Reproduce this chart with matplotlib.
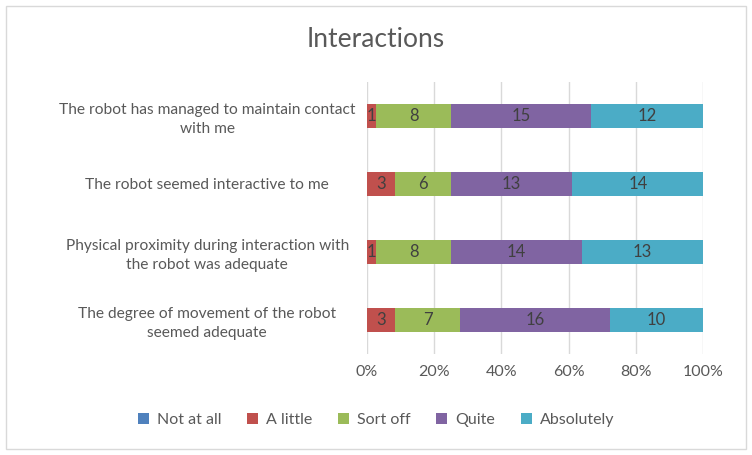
import numpy as np
import matplotlib.pyplot as plt
from matplotlib.patches import Rectangle

plt.rcParams['font.family'] = ['Lato', 'DejaVu Sans']

# ======= Data =======
questions = [
    "The robot has managed to maintain contact\nwith me",
    "The robot seemed interactive to me",
    "Physical proximity during interaction with\nthe robot was adequate",
    "The degree of movement of the robot\nseemed adequate",
]
levels = ["Not at all", "A little", "Sort off", "Quite", "Absolutely"]
not_at_all = [0, 0, 0, 0]
a_little = [1, 3, 1, 3]
sort_off = [8, 6, 8, 7]
quite = [15, 13, 14, 16]
absolutely = [12, 14, 13, 10]
colors = ['#4F81BD', '#C0504D', '#9BBB59', '#8064A2', '#4BACC6']

counts = np.array([not_at_all, a_little, sort_off, quite, absolutely], dtype=float)
shares = counts / counts.sum(axis=0)

# ======= Plot =======
fig = plt.figure(figsize=(7.52, 4.55), dpi=100)
ax = fig.add_axes([0.488, 0.222, 0.447, 0.598])

y = np.arange(len(questions))
left = np.zeros(len(questions))
for i, name in enumerate(levels):
    ax.barh(y, shares[i], left=left, height=0.35, color=colors[i], label=name, zorder=3)
    for j in range(len(questions)):
        if counts[i, j] > 0:
            ax.text(left[j] + shares[i, j] / 2, y[j], f"{int(counts[i, j])}",
                    ha='center', va='center', fontsize=12, color='#404040', zorder=4)
    left += shares[i]

ax.set_ylim(len(questions) - 0.5, -0.5)
ax.set_xlim(0, 1)
ax.set_xticks(np.linspace(0, 1, 6))
ax.set_xticklabels([f"{int(v)}%" for v in np.linspace(0, 100, 6)])
ax.set_yticks(y)
ax.set_yticklabels(questions, fontsize=11.2, color='#595959', ha='center', linespacing=1.45)
ax.tick_params(axis='y', length=0, pad=115)
ax.tick_params(axis='x', length=0, labelsize=11.5, labelcolor='#595959', pad=8)
for s in ax.spines.values():
    s.set_visible(False)
ax.grid(axis='x', color='#D9D9D9', linewidth=1, zorder=0)

fig.suptitle("Interactions", x=0.5, y=0.94, fontsize=19, color='#595959')

fig.legend(loc='center', bbox_to_anchor=(0.5, 0.077), ncol=5, frameon=False,
           fontsize=11.5, labelcolor='#595959', handlelength=0.7, handleheight=0.7,
           columnspacing=1.6, handletextpad=0.5)

fig.patches.append(Rectangle((0.008, 0.013), 0.984, 0.974, transform=fig.transFigure,
                             fill=False, edgecolor='#D9D9D9', linewidth=1))

plt.savefig("out.png", dpi=100)
